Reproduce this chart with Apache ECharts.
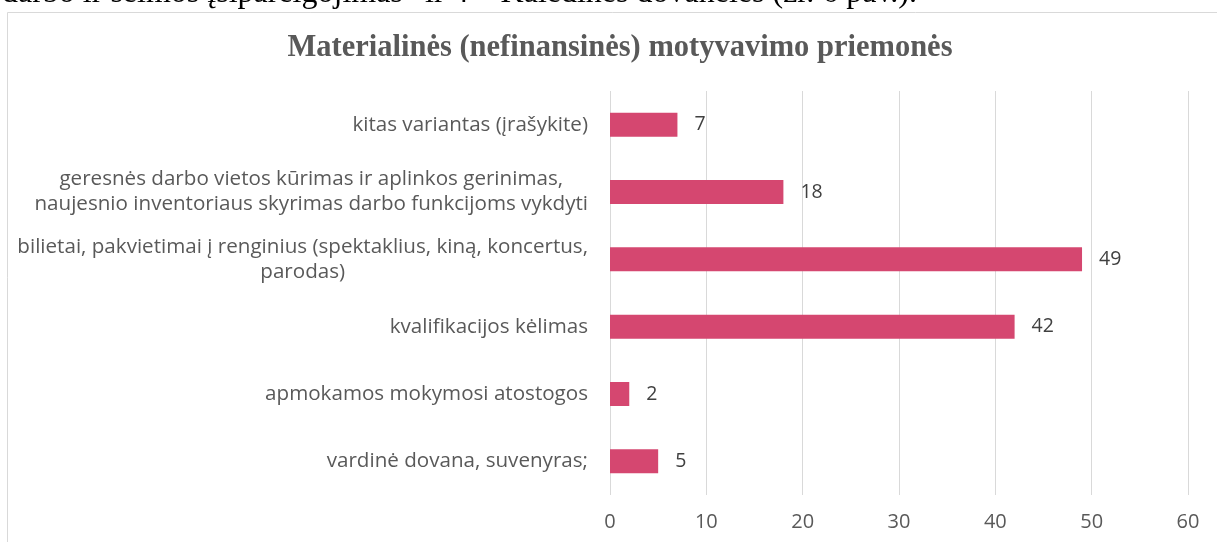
<!DOCTYPE html>
<html>
<head>
<meta charset="utf-8">
<script src="https://cdn.jsdelivr.net/npm/echarts@6/dist/echarts.min.js"></script>
<style>
  html, body {margin: 0; padding: 0; background: #fff;}
  #chart {width: 1217px; height: 542px;}
</style>
</head>
<body>
<div id="chart"></div>
<script>
const CHART_TITLE = "Materialinės (nefinansinės) motyvavimo priemonės";
const PAGE_TEXT = "darbo ir šeimos įsipareigojimas“ ir 4 – Kalėdinės dovanėlės (žr. 6 pav.).";

// top to bottom, as in the picture
const categories = [
  "kitas variantas (įrašykite)",
  "geresnės darbo vietos kūrimas ir aplinkos gerinimas,\nnaujesnio inventoriaus skyrimas darbo funkcijoms vykdyti",
  "bilietai, pakvietimai į renginius (spektaklius, kiną, koncertus,\nparodas)",
  "kvalifikacijos kėlimas",
  "apmokamos mokymosi atostogos",
  "vardinė dovana, suvenyras;",
];
const answers = [7, 18, 49, 42, 2, 5];
const xTicks = {min: 0, max: 60, interval: 10};

const BAR_COLOR = "#D54770";
const TEXT_GREY = "#595959";
const GRID_GREY = "#D9D9D9";
const LABEL_FONT = "'Open Sans', 'Noto Sans', sans-serif";

const chart = echarts.init(document.getElementById("chart"), null, {renderer: "canvas"});

chart.setOption({
  animation: false,
  backgroundColor: "#fff",
  title: {
    text: CHART_TITLE,
    left: 615,
    top: 28,
    textAlign: "center",
    textStyle: {
      fontFamily: "'Liberation Serif', 'Times New Roman', serif",
      fontWeight: "bold",
      fontSize: 30.5,
      color: TEXT_GREY,
    },
  },
  graphic: [
    {
      type: "rect",
      silent: true,
      shape: {x: 7.5, y: 12.5, width: 1400, height: 700},
      style: {fill: "none", stroke: GRID_GREY, lineWidth: 1},
      z: -1,
    },
    {
      type: "text",
      silent: true,
      x: 2,
      y: -6.5,
      style: {
        text: PAGE_TEXT,
        font: "32px 'Liberation Serif', 'Times New Roman', serif",
        fill: "#000",
        verticalAlign: "middle",
      },
    },
  ],
  grid: {left: 610, right: 29, top: 91, bottom: 47},
  xAxis: {
    type: "value",
    min: xTicks.min,
    max: xTicks.max,
    interval: xTicks.interval,
    axisLine: {show: false},
    axisTick: {show: false},
    splitLine: {lineStyle: {color: GRID_GREY, width: 1}},
    axisLabel: {
      color: TEXT_GREY,
      fontFamily: LABEL_FONT,
      fontSize: 20,
      margin: 17,
    },
  },
  yAxis: {
    type: "category",
    inverse: true,
    data: categories,
    axisLine: {show: false},
    axisTick: {show: false},
    axisLabel: {
      interval: 0,
      margin: 22,
      formatter: value => value.split("\n").map(line => `{c|${line}}`).join("\n"),
      rich: {
        c: {
          align: "center",
          color: TEXT_GREY,
          fontFamily: LABEL_FONT,
          fontSize: 20.6,
          lineHeight: 25,
        },
      },
    },
  },
  series: [{
    type: "bar",
    data: answers,
    barWidth: 24,
    itemStyle: {color: BAR_COLOR},
    label: {
      show: true,
      position: "right",
      distance: 17,
      color: "#404040",
      fontFamily: LABEL_FONT,
      fontSize: 19.5,
    },
  }],
});
</script>
</body>
</html>
